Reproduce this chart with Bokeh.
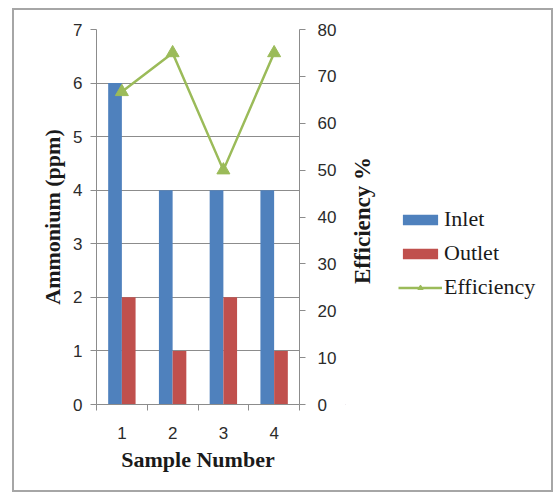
import math
from bokeh.plotting import figure
from bokeh.layouts import row
from bokeh.models import (LinearAxis, Range1d, FixedTicker, Legend, LegendItem,
                          ColumnDataSource)
from bokeh.core.properties import value
from bokeh.transform import dodge
from bokeh.embed import file_html
from bokeh.resources import INLINE

# Sample data
samples = [1, 2, 3, 4]
inlet = [6, 4, 4, 4]
outlet = [2, 1, 2, 1]
efficiency = [66.7, 75, 50, 75]

left_ticks = [0, 1, 2, 3, 4, 5, 6, 7]
right_ticks = [0, 10, 20, 30, 40, 50, 60, 70, 80]

BLUE = "#4f81bd"
RED = "#c0504d"
GREEN = "#9bbb59"
GRID = "#8c8c8c"
TICK_FONT = "Liberation Sans"
TITLE_FONT = "Liberation Serif"
TEXT = "#1a1a1a"

src = ColumnDataSource(dict(x=samples, inlet=inlet, outlet=outlet, eff=efficiency))

# ---- main chart: bars + efficiency line on a secondary axis ----
p = figure(width=331, height=480, output_backend="svg", toolbar_location=None,
           x_range=Range1d(0.5, 4.5), y_range=Range1d(0, 7),
           min_border_left=82, min_border_right=46, min_border_top=19,
           min_border_bottom=86)
p.outline_line_color = None
p.background_fill_color = "white"
p.border_fill_color = "white"
p.extra_y_ranges = {"eff": Range1d(0, 80)}

p.vbar(x=dodge("x", -0.135, range=p.x_range), top="inlet", width=0.27,
       source=src, fill_color=BLUE, line_color=None)
p.vbar(x=dodge("x", 0.135, range=p.x_range), top="outlet", width=0.27,
       source=src, fill_color=RED, line_color=None)
p.line(x="x", y="eff", source=src, y_range_name="eff",
       line_color=GREEN, line_width=2.5)
p.scatter(x="x", y="eff", source=src, y_range_name="eff",
          marker="triangle", size=13, fill_color=GREEN, line_color=GREEN)

p.xgrid.visible = False
p.ygrid.ticker = FixedTicker(ticks=left_ticks)
p.ygrid.grid_line_color = GRID
p.ygrid.grid_line_width = 1

xa = p.xaxis[0]
xa.ticker = FixedTicker(ticks=samples, minor_ticks=[0.5, 1.5, 2.5, 3.5, 4.5])
xa.major_tick_out = 0
xa.major_tick_in = 0
xa.minor_tick_out = 6
xa.minor_tick_in = 0
xa.minor_tick_line_color = GRID
xa.major_label_standoff = 16
xa.axis_label = "Sample Number"
xa.axis_label_standoff = 5

ya = p.yaxis[0]
ya.ticker = FixedTicker(ticks=left_ticks)
ya.axis_label = "Ammonium (ppm)"
ya.axis_label_standoff = 5
ya.major_label_standoff = 8

ra = LinearAxis(y_range_name="eff", ticker=FixedTicker(ticks=right_ticks))
ra.major_label_standoff = 12
p.add_layout(ra, "right")

for ax in (xa, ya, ra):
    ax.axis_line_color = GRID
    ax.major_label_text_font = TICK_FONT
    ax.major_label_text_font_size = "17px"
    ax.major_label_text_color = "#2b2b2b"
    ax.axis_label_text_font = TITLE_FONT
    ax.axis_label_text_font_size = "22px"
    ax.axis_label_text_font_style = "bold"
    ax.axis_label_text_color = TEXT
for ax in (ya, ra):
    ax.major_tick_line_color = GRID
    ax.major_tick_out = 6
    ax.major_tick_in = 0
    ax.minor_tick_line_color = None

# ---- side panel: secondary axis title and legend ----
# its frame lines up with the main chart's frame (375 px tall), one unit per pixel
side = figure(width=206, height=480, output_backend="svg", toolbar_location=None,
              x_range=Range1d(0, 206), y_range=Range1d(0, 375),
              min_border=0, min_border_left=0, min_border_right=0,
              min_border_top=0, min_border_bottom=0)
side.axis.visible = False
side.grid.visible = False
side.outline_line_color = None
side.background_fill_color = "white"
side.border_fill_color = "white"

side.text(x=[17], y=[184], text=["Efficiency %"], angle=math.pi / 2,
          text_align="center", text_baseline="middle",
          text_font=value(TITLE_FONT), text_font_size="23px",
          text_font_style="bold", text_color=TEXT)

# legend swatches, kept far outside the visible area
k_in = side.vbar(x=[-1000], bottom=[-1000], top=[-999], width=1,
                 fill_color=BLUE, line_color=None)
k_out = side.vbar(x=[-1000], bottom=[-1000], top=[-999], width=1,
                  fill_color=RED, line_color=None)
k_line = side.line(x=[-1000, -999], y=[-1000, -1000], line_color=GREEN,
                   line_width=2.5)
k_pts = side.scatter(x=[-1000], y=[-1000], marker="triangle", size=11,
                     fill_color=GREEN, line_color=GREEN)

legend = Legend(items=[
    LegendItem(label="Inlet", renderers=[k_in]),
    LegendItem(label="Outlet", renderers=[k_out]),
    LegendItem(label="Efficiency", renderers=[k_line, k_pts]),
], location=(53, 104))
legend.label_text_font = TITLE_FONT
legend.label_text_font_size = "22px"
legend.label_text_color = TEXT
legend.glyph_width = 44
legend.glyph_height = 13
legend.label_height = 25
legend.label_standoff = 2
legend.spacing = 8
legend.padding = 0
legend.margin = 0
legend.border_line_color = None
legend.background_fill_alpha = 0
side.add_layout(legend, "center")

layout = row(p, side, spacing=0, margin=(10, 0, 0, 14))
layout.styles = {"outline": "2px solid #a6a6a6"}

open("out.html", "w").write(file_html(layout, INLINE))
